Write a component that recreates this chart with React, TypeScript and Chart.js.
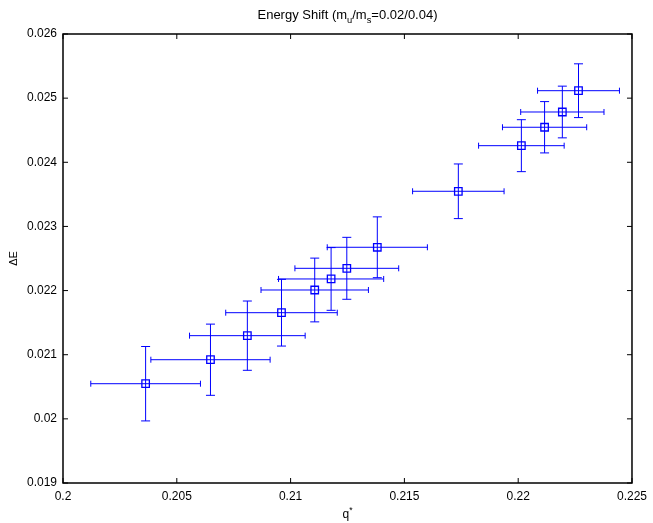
import React, { useEffect, useRef } from 'react';
import { Chart, registerables } from 'chart.js';

Chart.register(...registerables);

// ---- data ----
const qStar = [0.20363, 0.20648, 0.2081, 0.2096, 0.21106, 0.21178, 0.21247, 0.21381, 0.21737, 0.22014, 0.22116, 0.22194, 0.22265];
const qStarErr = [0.00241, 0.00262, 0.00254, 0.00245, 0.00236, 0.00231, 0.00228, 0.0022, 0.00201, 0.00188, 0.00185, 0.00183, 0.0018];
const deltaE = [0.020548, 0.020922, 0.021297, 0.021655, 0.022009, 0.022181, 0.022347, 0.022675, 0.023548, 0.024259, 0.024546, 0.024784, 0.025116];
const deltaEErr = [0.00058, 0.000555, 0.00054, 0.00052, 0.000497, 0.000489, 0.000483, 0.000474, 0.000426, 0.000405, 0.0004, 0.000403, 0.000419];

const xTickValues = [0.2, 0.205, 0.21, 0.215, 0.22, 0.225];
const xTickLabels = ['0.2', '0.205', '0.21', '0.215', '0.22', '0.225'];
const yTickValues = [0.019, 0.02, 0.021, 0.022, 0.023, 0.024, 0.025, 0.026];
const yTickLabels = ['0.019', '0.02', '0.021', '0.022', '0.023', '0.024', '0.025', '0.026'];

type Part = [string, 'n' | 'sub' | 'sup'];
const titleParts: Part[] = [['Energy Shift (m', 'n'], ['u', 'sub'], ['/m', 'n'], ['s', 'sub'], ['=0.02/0.04)', 'n']];
const xLabelParts: Part[] = [['q', 'n'], ['*', 'sup']];
const yLabelText = '\u0394E';

const FONT = '"Liberation Sans", Arial, Helvetica, sans-serif';
const BLUE = 'rgb(0,0,255)';

function drawRich(ctx: CanvasRenderingContext2D, parts: Part[], cx: number, baseline: number, size: number) {
  const small = size * 0.72;
  let total = 0;
  for (const [t, k] of parts) {
    ctx.font = `${k === 'n' ? size : small}px ${FONT}`;
    total += ctx.measureText(t).width;
  }
  let x = cx - total / 2;
  ctx.textAlign = 'left';
  ctx.textBaseline = 'alphabetic';
  for (const [t, k] of parts) {
    ctx.font = `${k === 'n' ? size : small}px ${FONT}`;
    const dy = k === 'sub' ? size * 0.3 : k === 'sup' ? -size * 0.45 : 0;
    ctx.fillText(t, x, baseline + dy);
    x += ctx.measureText(t).width;
  }
}

const errorBarPlugin = {
  id: 'errorBars',
  afterDatasetsDraw(chart: any) {
    const { ctx, scales } = chart;
    const xs = scales.x;
    const ys = scales.y;
    ctx.save();
    ctx.strokeStyle = BLUE;
    ctx.lineWidth = 1;
    for (let i = 0; i < qStar.length; i++) {
      const px = xs.getPixelForValue(qStar[i]);
      const py = ys.getPixelForValue(deltaE[i]);
      const xl = xs.getPixelForValue(qStar[i] - qStarErr[i]);
      const xr = xs.getPixelForValue(qStar[i] + qStarErr[i]);
      const yt = ys.getPixelForValue(deltaE[i] + deltaEErr[i]);
      const yb = ys.getPixelForValue(deltaE[i] - deltaEErr[i]);
      ctx.beginPath();
      ctx.moveTo(xl, py); ctx.lineTo(xr, py);
      ctx.moveTo(xl, py - 3); ctx.lineTo(xl, py + 3);
      ctx.moveTo(xr, py - 3); ctx.lineTo(xr, py + 3);
      ctx.moveTo(px, yt); ctx.lineTo(px, yb);
      ctx.moveTo(px - 4.5, yt); ctx.lineTo(px + 4.5, yt);
      ctx.moveTo(px - 4.5, yb); ctx.lineTo(px + 4.5, yb);
      ctx.stroke();
    }
    ctx.restore();
  },
};

const framePlugin = {
  id: 'matlabFrame',
  afterDraw(chart: any) {
    const { ctx, chartArea, scales } = chart;
    const { left, right, top, bottom } = chartArea;
    const xs = scales.x;
    const ys = scales.y;
    const tl = 5;
    ctx.save();
    ctx.strokeStyle = '#000';
    ctx.lineWidth = 1.5;
    ctx.strokeRect(left, top, right - left, bottom - top);
    ctx.lineWidth = 1;
    ctx.beginPath();
    for (const v of xTickValues) {
      const p = xs.getPixelForValue(v);
      ctx.moveTo(p, bottom); ctx.lineTo(p, bottom - tl);
      ctx.moveTo(p, top); ctx.lineTo(p, top + tl);
    }
    for (const v of yTickValues) {
      const p = ys.getPixelForValue(v);
      ctx.moveTo(left, p); ctx.lineTo(left + tl, p);
      ctx.moveTo(right, p); ctx.lineTo(right - tl, p);
    }
    ctx.stroke();

    ctx.fillStyle = '#000';
    const cx = (left + right) / 2;
    drawRich(ctx, titleParts, cx, 19, 13);
    drawRich(ctx, xLabelParts, cx, 518, 12);

    ctx.save();
    ctx.translate(17, (top + bottom) / 2);
    ctx.rotate(-Math.PI / 2);
    ctx.font = `11px ${FONT}`;
    ctx.textAlign = 'center';
    ctx.textBaseline = 'alphabetic';
    ctx.fillText(yLabelText, 0, 0);
    ctx.restore();
    ctx.restore();
  },
};

export default function App() {
  const ref = useRef<HTMLCanvasElement | null>(null);
  useEffect(() => {
    document.body.style.margin = '0';
    const canvas = ref.current;
    if (!canvas) return;
    const chart = new Chart(canvas, {
      type: 'scatter',
      data: {
        datasets: [
          {
            data: qStar.map((q, i) => ({ x: q, y: deltaE[i] })),
            pointStyle: 'rect',
            radius: 5.3,
            borderColor: BLUE,
            backgroundColor: 'rgba(0,0,0,0)',
            borderWidth: 1.3,
            showLine: false,
          } as any,
        ],
      },
      plugins: [errorBarPlugin, framePlugin],
      options: {
        animation: false,
        responsive: false,
        devicePixelRatio: 1,
        layout: { padding: { top: 34, right: 19, left: 0, bottom: 0 } },
        plugins: { legend: { display: false }, tooltip: { enabled: false }, title: { display: false } },
        scales: {
          x: {
            type: 'linear',
            min: 0.2,
            max: 0.225,
            grid: { display: false, drawTicks: false },
            border: { display: false },
            afterBuildTicks: (s: any) => { s.ticks = xTickValues.map((v) => ({ value: v })); },
            afterFit: (s: any) => { s.height = 40; },
            ticks: {
              padding: 6,
              color: '#000',
              font: { family: FONT, size: 12 },
              maxRotation: 0,
              callback: (v: any) => { const i = xTickValues.findIndex((t) => Math.abs(t - v) < 1e-9); return i >= 0 ? xTickLabels[i] : ''; },
            },
          },
          y: {
            type: 'linear',
            min: 0.019,
            max: 0.026,
            grid: { display: false, drawTicks: false },
            border: { display: false },
            afterBuildTicks: (s: any) => { s.ticks = yTickValues.map((v) => ({ value: v })); },
            afterFit: (s: any) => { s.width = 63; },
            ticks: {
              padding: 6,
              color: '#000',
              font: { family: FONT, size: 12 },
              callback: (v: any) => { const i = yTickValues.findIndex((t) => Math.abs(t - v) < 1e-9); return i >= 0 ? yTickLabels[i] : ''; },
            },
          },
        },
      } as any,
    });
    return () => chart.destroy();
  }, []);
  return (
    <div style={{ position: 'absolute', left: 0, top: 0, width: 653, height: 523, background: '#fff' }}>
      <canvas ref={ref} width={653} height={523} />
    </div>
  );
}
